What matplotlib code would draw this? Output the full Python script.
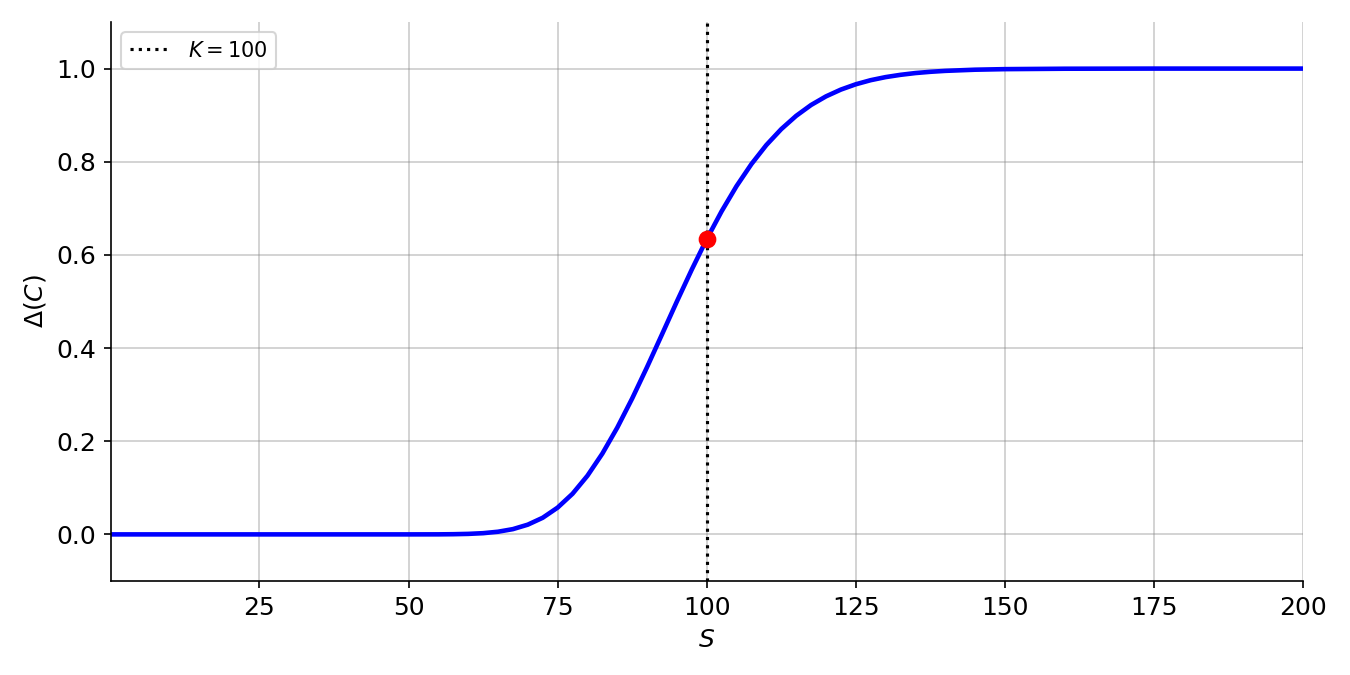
import matplotlib
matplotlib.use('Agg')
import matplotlib.pyplot as plt

# Call delta vs spot
spot = [0.1, 25, 50, 55, 57.5, 60, 62.5, 65, 67.5, 70, 72.5, 75, 77.5, 80, 82.5,
        85, 87.5, 90, 92.5, 95, 97.5, 100, 102.5, 105, 107.5, 110, 112.5, 115,
        117.5, 120, 122.5, 125, 127.5, 130, 132.5, 135, 137.5, 140, 145, 150,
        160, 175, 200]
delta = [0.0, 0.0, 0.0, 0.0001, 0.0004, 0.0011, 0.0026, 0.0057, 0.0113, 0.0209,
         0.0357, 0.0575, 0.0872, 0.1259, 0.1734, 0.2291, 0.2917, 0.3592, 0.4293,
         0.5000, 0.5686, 0.6337, 0.6936, 0.7476, 0.7950, 0.8358, 0.8700, 0.8985,
         0.9218, 0.9403, 0.9549, 0.9663, 0.9751, 0.9817, 0.9866, 0.9904, 0.9931,
         0.9951, 0.9976, 0.9988, 0.9997, 1.0, 1.0]
strike = 100
delta_at_strike = 0.6337

fig, ax = plt.subplots(figsize=(9, 4.5), dpi=150)
fig.subplots_adjust(left=0.0822, right=0.9652, top=0.9674, bottom=0.1393)

ax.plot(spot, delta, color='blue', linewidth=2.2)
ax.axvline(strike, color='black', linestyle=':', linewidth=1.5, label=r'$K = 100$')
ax.plot([strike], [delta_at_strike], 'o', color='red', markersize=7.5)

ax.set_xlim(0.1, 200)
ax.set_ylim(-0.1, 1.1)
ax.set_xlabel(r'$S$', fontsize=12)
ax.set_ylabel(r'$\Delta(C)$', fontsize=12)
ax.tick_params(labelsize=12)
ax.grid(True, color='gray', alpha=0.4, linewidth=0.8)
ax.spines['top'].set_visible(False)
ax.spines['right'].set_visible(False)
ax.legend(loc='upper left', fontsize=10)

fig.savefig('out.png', dpi=150)
